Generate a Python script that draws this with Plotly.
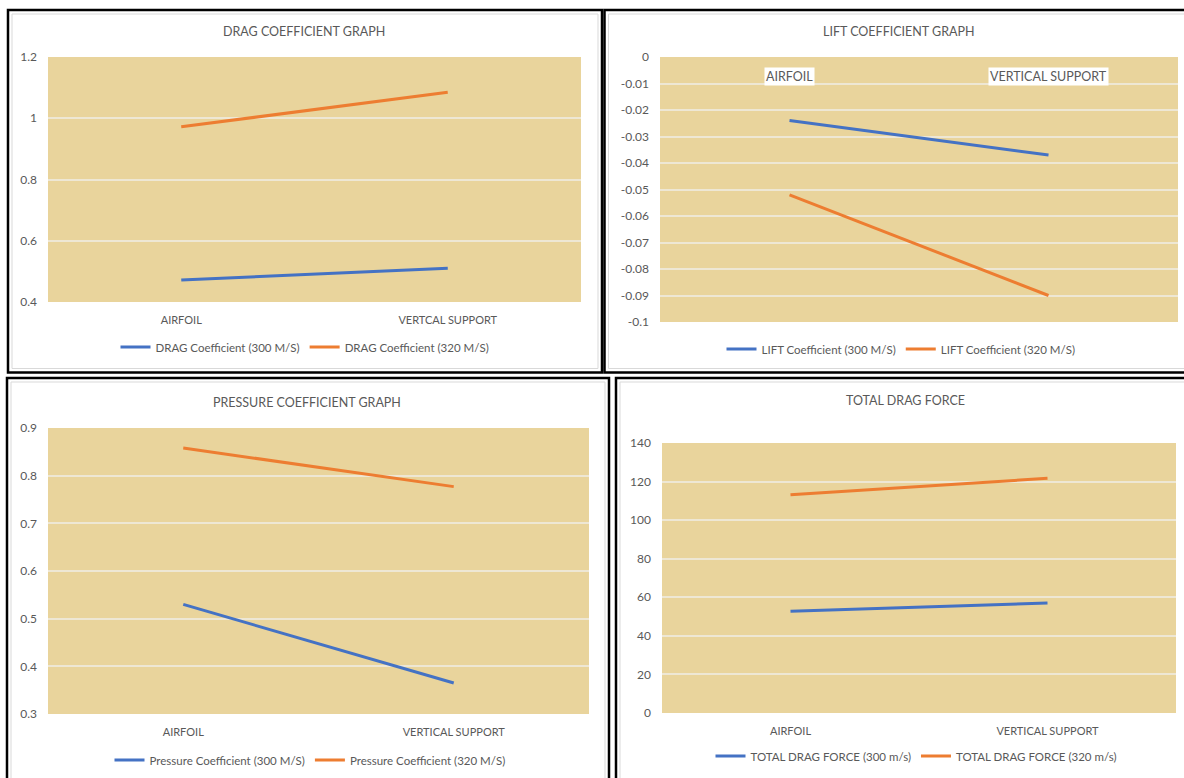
import plotly.graph_objects as go

W, H = 1184, 778

categories_drag = ["AIRFOIL", "VERTCAL SUPPORT"]
categories = ["AIRFOIL", "VERTICAL SUPPORT"]

drag_300 = [0.472, 0.510]
drag_320 = [0.972, 1.085]
lift_300 = [-0.024, -0.037]
lift_320 = [-0.052, -0.090]
pres_300 = [0.530, 0.365]
pres_320 = [0.858, 0.777]
force_300 = [52.7, 57.0]
force_320 = [113.2, 121.7]

titles = ["DRAG COEFFICIENT GRAPH", "LIFT COEFFICIENT GRAPH",
          "PRESSURE COEFFICIENT GRAPH", "TOTAL DRAG FORCE"]
names_300 = ["DRAG Coefficient (300 M/S)", "LIFT Coefficient (300 M/S)",
             "Pressure Coefficient (300 M/S)", "TOTAL DRAG FORCE (300 m/s)"]
names_320 = ["DRAG Coefficient (320 M/S)", "LIFT Coefficient (320 M/S)",
             "Pressure Coefficient (320 M/S)", "TOTAL DRAG FORCE (320 m/s)"]

y_ticks = [
    [0.4, 0.6, 0.8, 1.0, 1.2],
    [0, -0.01, -0.02, -0.03, -0.04, -0.05, -0.06, -0.07, -0.08, -0.09, -0.1],
    [0.3, 0.4, 0.5, 0.6, 0.7, 0.8, 0.9],
    [0, 20, 40, 60, 80, 100, 120, 140],
]

BLUE = "#4472C4"
ORANGE = "#ED7D31"
GRAY = "#595959"
FONT = "Lato"
BG = "#e9d49c"
GRID = "rgba(238,233,218,0.9)"

def px(x):
    return x / W

def py(y):
    return 1 - y / H

# plot areas in pixels: (left, right, top, bottom)
areas = [(48, 581, 57, 302), (660, 1178, 57, 322), (48, 589, 428, 714), (662, 1176, 443, 713)]
title_pos = [(304, 32), (899, 32), (307, 402), (905, 400)]
legend_pos = [(305, 347), (901, 349), (310, 760), (916, 756)]
cats = [categories_drag, categories, categories, categories]
series300 = [drag_300, lift_300, pres_300, force_300]
series320 = [drag_320, lift_320, pres_320, force_320]

fig = go.Figure()
layout = dict(width=W, height=H, margin=dict(l=0, r=0, t=0, b=0, autoexpand=False),
              paper_bgcolor="white", plot_bgcolor=BG,
              font=dict(family=FONT, color=GRAY, size=11))
annotations = []
shapes = []

for i in range(4):
    n = "" if i == 0 else str(i + 1)
    xa, ya = "x" + n, "y" + n
    lg = "legend" + n
    fig.add_trace(go.Scatter(x=cats[i], y=series300[i], mode="lines", name=names_300[i],
                             line=dict(color=BLUE, width=3), xaxis=xa, yaxis=ya, legend=lg))
    fig.add_trace(go.Scatter(x=cats[i], y=series320[i], mode="lines", name=names_320[i],
                             line=dict(color=ORANGE, width=3), xaxis=xa, yaxis=ya, legend=lg))
    l, r, t, b = areas[i]
    tv = y_ticks[i]
    layout["xaxis" + n] = dict(domain=[px(l), px(r)], anchor=ya, type="category",
                               range=[-0.5, 1.5], showgrid=False, zeroline=False,
                               showline=False, ticks="",
                               showticklabels=(i != 1),
                               tickfont=dict(size=11, color=GRAY),
                               ticklabelstandoff=10)
    layout["yaxis" + n] = dict(domain=[py(b), py(t)], anchor=xa,
                               range=[min(tv), max(tv)], tickvals=tv,
                               ticktext=[f"{v:g}" for v in tv],
                               showgrid=True, gridcolor=GRID, gridwidth=1.5,
                               zeroline=False, showline=False, ticks="",
                               tickfont=dict(size=12, color=GRAY),
                               ticklabelstandoff=10)
    tx, ty = title_pos[i]
    annotations.append(dict(text=titles[i], x=px(tx), y=py(ty), xref="paper", yref="paper",
                            showarrow=False, xanchor="center", yanchor="middle",
                            font=dict(size=12.5, color=GRAY, family=FONT)))
    lx, ly = legend_pos[i]
    layout[lg] = dict(orientation="h", x=px(lx), y=py(ly), xanchor="center", yanchor="middle",
                      bgcolor="rgba(0,0,0,0)", font=dict(size=11.5, color=GRAY, family=FONT),
                      itemwidth=30, tracegroupgap=0)

# in-plot category labels for the lift chart
for c in categories:
    annotations.append(dict(text=c, x=c, y=-0.0073, xref="x2", yref="y2", showarrow=False,
                            xanchor="center", yanchor="middle", bgcolor="white",
                            font=dict(size=12.5, color=GRAY, family=FONT), borderpad=1))

# panel frames: (left, top, right, bottom)
frames = [(8, 10, 602, 372.5), (604.5, 10, 1190, 372.5), (7, 378, 609, 790), (616, 378, 1190, 790)]
for (l, t, r, b) in frames:
    shapes.append(dict(type="rect", xref="paper", yref="paper", x0=px(l), x1=px(r), y0=py(b), y1=py(t),
                       line=dict(color="black", width=2.5), fillcolor="rgba(0,0,0,0)", layer="above"))
    shapes.append(dict(type="rect", xref="paper", yref="paper", x0=px(l + 4), x1=px(r - 4), y0=py(b - 4), y1=py(t + 4),
                       line=dict(color="#d9d9d9", width=1), fillcolor="rgba(0,0,0,0)", layer="above"))

layout["annotations"] = annotations
layout["shapes"] = shapes
fig.update_layout(**layout)

post = ("document.documentElement.style.margin='0';document.body.style.margin='0';"
        "document.body.style.padding='0';document.body.style.overflow='hidden';"
        "var d=document.getElementById('{plot_id}');d.style.position='absolute';"
        "d.style.left='0px';d.style.top='0px';")
fig.write_html("out.html", post_script=post, config={"displayModeBar": False})
